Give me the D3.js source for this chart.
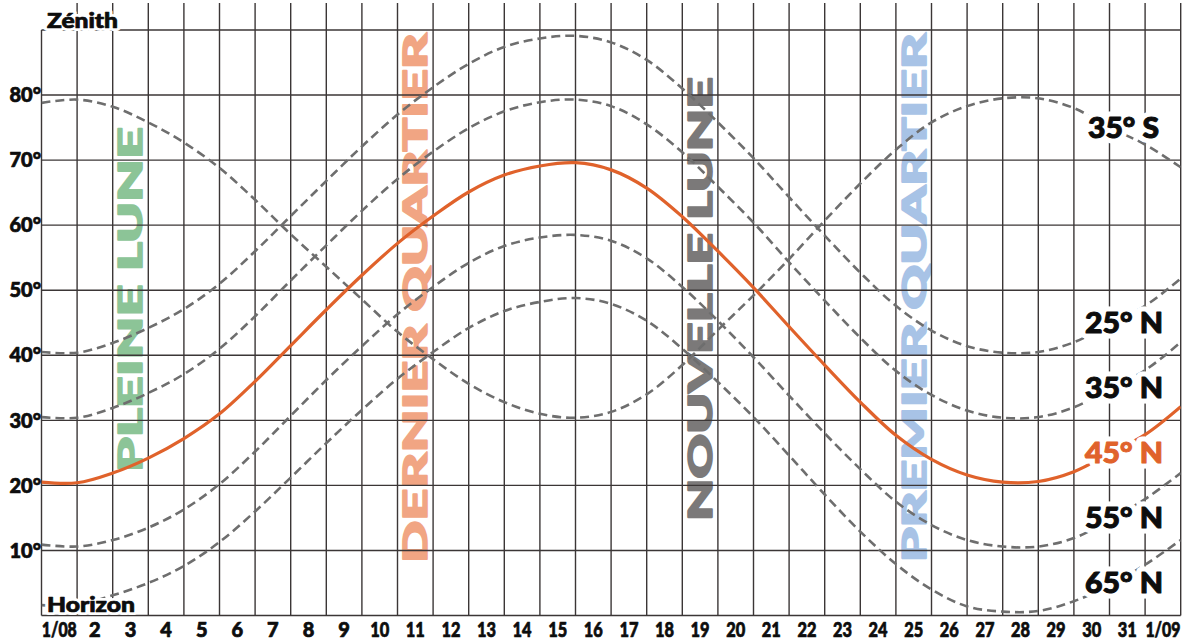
<!DOCTYPE html>
<html><head><meta charset="utf-8">
<script src="https://cdn.jsdelivr.net/npm/d3@7"></script>
<style>
body{margin:0;background:#fff}
svg{display:block}
text{font-family:Lato,"Open Sans",sans-serif;font-weight:900}
</style>
</head><body>
<svg id="chart" width="1191" height="640"></svg>
<script>
// ---- data ----
const dayLabels = ["1/08","2","3","4","5","6","7","8","9","10","11","12","13","14","15","16",
  "17","18","19","20","21","22","23","24","25","26","27","28","29","30","31","1/09"];
const altTicks = [0,10,20,30,40,50,60,70,80,90];
const altTickLabels = ["","10°","20°","30°","40°","50°","60°","70°","80°",""];

// altitude (degrees) read at each day grid line (33 lines)
const alt35S = [78.8,79.3,78.2,75.8,72.7,68.8,63.9,58.6,53.6,48.6,43.6,39.4,35.6,32.8,31.0,30.4,31.3,
  34.0,38.5,43.9,49.2,54.8,60.7,66.4,71.6,75.8,78.3,79.5,79.5,78.0,75.0,72.4,68.9];
const alt25N = [40.5,40.4,41.9,44.2,47.1,51.0,56.0,61.4,66.8,72.1,77.0,81.2,84.8,87.4,88.7,89.1,88.1,
  85.4,81.0,75.8,70.3,64.3,58.4,52.7,47.6,43.8,41.4,40.4,40.5,42.0,44.8,47.6,51.8];
const alt35N = [30.5,30.4,31.9,34.2,37.1,41.0,46.0,51.5,56.9,62.2,67.1,71.3,74.9,77.5,78.9,79.3,78.3,
  75.5,71.2,65.9,60.4,54.3,48.4,42.7,37.6,33.9,31.5,30.4,30.5,32.0,34.8,37.7,42.0];
const alt45N = [20.5,20.4,21.9,24.2,27.2,31.0,36.0,41.5,47.0,52.3,57.2,61.4,65.1,67.7,69.1,69.6,68.5,
  65.7,61.3,56.0,50.4,44.4,38.5,32.8,27.7,24.0,21.6,20.5,20.6,22.1,24.9,27.8,32.1];
const alt55N = [10.9,10.6,11.6,13.5,16.3,20.2,25.2,30.7,36.2,41.4,46.3,50.5,54.2,56.8,58.1,58.5,57.6,
  54.9,50.5,45.3,39.7,33.8,28.0,22.5,17.5,13.9,11.6,10.6,10.6,11.9,14.7,17.9,21.9];
const alt65N = [1.6,1.6,3.1,5.0,7.6,11.3,16.0,21.2,26.5,31.6,36.4,40.5,44.2,46.8,48.2,48.8,47.9,
  45.3,41.0,35.9,30.5,24.6,18.6,12.9,7.9,4.0,1.4,0.6,0.7,2.2,4.6,7.8,11.6];

const seriesNames = ["35° S","25° N","35° N","45° N","55° N","65° N"];
const seriesLabelAlt = [75,45,35,25,15,5];

const phaseNames = ["PLEINE LUNE","DERNIER QUARTIER","NOUVELLE LUNE","PREMIER QUARTIER"];
const phaseDays = [3,11,19,25];

// ---- drawing ----
const svg = d3.select("#chart");
const W = 1191, H = 640;
svg.append("rect").attr("width",W).attr("height",H).attr("fill","#fff");

const x = d3.scaleLinear().domain([0, 32]).range([41.5, 1180.7]);
const y = d3.scaleLinear().domain([0, 90]).range([615.5, 30]);

const gridColor = "#3b3636";
const ink = "#0d0d0d";
const orange = "#e0622b";

// phase labels (beneath everything)
const phaseColors = ["#8cc497","#f1a583","#7b7979","#a8c3e6"];
const phaseBottom = [472, 563, 521, 562];
const phaseTop = [127, 33, 77, 33];
const gPh = svg.append("g");
phaseNames.forEach((name, k) => {
  gPh.append("text")
    .attr("transform", `translate(${x(phaseDays[k]-1+0.5)},${phaseBottom[k]}) rotate(-90)`)
    .attr("dy", "0.36em")
    .attr("font-size", 33)
    .attr("fill", phaseColors[k])
    .attr("stroke", phaseColors[k]).attr("stroke-width", 1.6).attr("stroke-linejoin","round")
    .attr("textLength", phaseBottom[k]-phaseTop[k])
    .attr("lengthAdjust", "spacingAndGlyphs")
    .text(name);
});

// grid
const gGrid = svg.append("g").attr("stroke", gridColor).attr("stroke-width", 1.4);
d3.range(33).forEach(i => {
  gGrid.append("line")
    .attr("x1", x(i)).attr("x2", x(i))
    .attr("y1", i === 0 ? y(90) : 3).attr("y2", y(0));
});
altTicks.forEach(t => {
  gGrid.append("line")
    .attr("x1", x(0)).attr("x2", x(32))
    .attr("y1", y(t)).attr("y2", y(t));
});

// curves
svg.append("clipPath").attr("id","plotclip").append("rect")
  .attr("x", x(0)).attr("y", y(90)).attr("width", x(32)-x(0)).attr("height", y(0)-y(90));
const line = d3.line().x((d,i) => x(i)).y(d => y(d)).curve(d3.curveCatmullRom.alpha(0.5));
const gCurves = svg.append("g").attr("clip-path","url(#plotclip)");
[alt35S, alt25N, alt35N, alt55N, alt65N].forEach(arr => {
  gCurves.append("path").attr("d", line(arr))
    .attr("fill","none").attr("stroke","#6e6e6e").attr("stroke-width",2.6)
    .attr("stroke-dasharray","9,5");
});
gCurves.append("path").attr("d", line(alt45N))
  .attr("fill","none").attr("stroke",orange).attr("stroke-width",3.2);

// text helper: white halo layer + emboldened fill layer
function boldText(parent, attrs, str, color, haloW, emb) {
  const layers = haloW ? ["halo","fill"] : ["fill"];
  layers.forEach(layer => {
    const t = parent.append("text").text(str);
    Object.entries(attrs).forEach(([k,v]) => t.attr(k, v));
    if (layer === "halo") {
      t.attr("fill","#fff").attr("stroke","#fff").attr("stroke-width",haloW).attr("stroke-linejoin","round");
    } else {
      t.attr("fill",color).attr("stroke",color).attr("stroke-width",emb).attr("stroke-linejoin","round");
    }
  });
}

const gY = svg.append("g");
altTicks.forEach((t,k) => {
  if (!altTickLabels[k]) return;
  boldText(gY, {x:41, y:y(t), dy:"0.36em", "text-anchor":"end", "font-size":20},
    altTickLabels[k], ink, 0, 0.7);
});
boldText(svg, {x:47, y:28, "font-size":20, textLength:71, lengthAdjust:"spacingAndGlyphs"},
  "Zénith", ink, 6, 0.7);
boldText(svg, {x:47, y:612, "font-size":20, textLength:88, lengthAdjust:"spacingAndGlyphs"},
  "Horizon", ink, 6, 0.7);

const gX = svg.append("g");
dayLabels.forEach((lab,i) => {
  const a = {x:x(i+0.5), y:637, "text-anchor":"middle", "font-size":20};
  if (lab.length === 2) { a.textLength = 19; a.lengthAdjust = "spacingAndGlyphs"; }
  if (lab.length === 4) { a.textLength = 35; a.lengthAdjust = "spacingAndGlyphs"; }
  boldText(gX, a, lab, ink, 0, 0.7);
});

// series labels at right
const gS = svg.append("g");
seriesNames.forEach((name,k) => {
  const isS = name.indexOf("S") >= 0;
  boldText(gS, {x: isS ? 1088 : 1085, y: y(seriesLabelAlt[k]), dy:"0.36em", "font-size":28,
      textLength: isS ? 71 : 78, lengthAdjust:"spacingAndGlyphs"},
    name, name === "45° N" ? orange : ink, 11, 1.0);
});
</script>
</body></html>
